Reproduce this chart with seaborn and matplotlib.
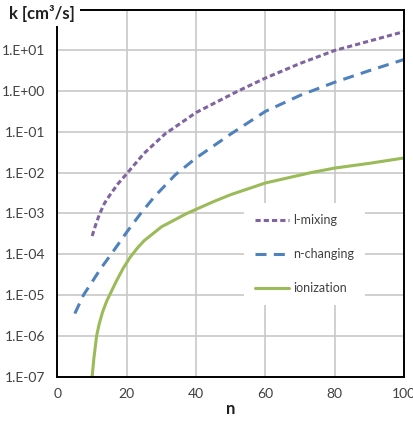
import numpy as np
import pandas as pd
import matplotlib
matplotlib.use("Agg")
import matplotlib.pyplot as plt
from matplotlib.ticker import FuncFormatter, FixedLocator
import seaborn as sns

# ---- data ----
n_lmix = [10, 11, 12.1, 13.5, 15, 17.5, 20, 25, 31, 40, 52, 60, 70, 80, 90, 100]
k_lmix = [2.8e-4, 5.2e-4, 9.5e-4, 1.74e-3, 2.75e-3, 5.4e-3, 9.5e-3, 3.0e-2, 8.9e-2,
          0.30, 1.0, 2.1, 4.8, 10.0, 17.0, 29.0]

n_nchg = [5, 7.5, 10, 12.5, 15.5, 20, 24, 28, 34, 40, 50, 60, 70, 80, 90, 100]
k_nchg = [3.5e-6, 1.0e-5, 2.1e-5, 4.5e-5, 1.0e-4, 3.5e-4, 1.0e-3, 2.6e-3, 8.9e-3,
          2.3e-2, 8.9e-2, 0.32, 0.79, 1.66, 3.2, 6.0]

n_ion = [10, 10.5, 11.3, 12, 13, 14.2, 15.5, 17, 19, 21, 23, 25, 30, 37.3, 45, 50,
         60, 73, 80, 90, 100]
k_ion = [1.0e-7, 2.8e-7, 1.0e-6, 1.9e-6, 3.8e-6, 7.1e-6, 1.2e-5, 2.2e-5, 4.6e-5,
         8.5e-5, 1.4e-4, 2.15e-4, 4.7e-4, 1.0e-3, 1.95e-3, 2.9e-3, 5.6e-3,
         1.0e-2, 1.3e-2, 1.7e-2, 2.3e-2]

series_names = ["l-mixing", "n-changing", "ionization"]
x_ticks = [0, 20, 40, 60, 80, 100]
y_ticks = [1e-7, 1e-6, 1e-5, 1e-4, 1e-3, 1e-2, 1e-1, 1e0, 1e1, 1e2]
x_label = "n"
y_label = "k [cm³/s]"

# ---- style ----
sns.set_style("white")
plt.rcParams["font.family"] = ["Lato", "DejaVu Sans"]

fig = plt.figure(figsize=(4.14, 4.22), dpi=100)
ax = fig.add_axes([57.5 / 414, 1 - 376.5 / 422, (404 - 57.5) / 414, (376.5 - 9.7) / 422])

colors = ["#8064A2", "#4F81BD", "#9BBB59"]
styles = [(0, (1.7, 1.0)), (0, (3.6, 2.4)), "-"]
data = [(n_lmix, k_lmix), (n_nchg, k_nchg), (n_ion, k_ion)]

for (xs, ys), name, c, ls in zip(data, series_names, colors, styles):
    df = pd.DataFrame({"n": xs, "k": ys})
    sns.lineplot(data=df, x="n", y="k", ax=ax, color=c, linewidth=2.2,
                 linestyle=ls, label=name, sort=False)

ax.set_yscale("log")
ax.set_xlim(0, 100)
ax.set_ylim(1e-7, 1e2)
ax.xaxis.set_major_locator(FixedLocator(x_ticks))
ax.yaxis.set_major_locator(FixedLocator(y_ticks))
ax.yaxis.set_minor_locator(FixedLocator([]))


def fmt(v, pos):
    if v >= 99:
        return ""
    e = int(round(np.log10(v)))
    return f"1.E{e:+03d}"


ax.yaxis.set_major_formatter(FuncFormatter(fmt))
ax.grid(True, which="major", color="#c8c8c8", linewidth=1.2)
ax.set_axisbelow(True)
for s in ax.spines.values():
    s.set_color("black")
    s.set_linewidth(1.4)
ax.tick_params(axis="both", which="major", direction="out", length=5, width=1,
               color="#a0a0a0", labelsize=10, labelcolor="#404040", pad=4)
ax.tick_params(axis="x", pad=3)

ax.set_xlabel(x_label, fontsize=12, fontweight="bold", color="#202020", labelpad=1)
ax.set_ylabel("")

fig.text(9 / 414, 1 - 13 / 422, y_label, fontsize=12, fontweight="bold", color="#202020",
         ha="left", va="center",
         bbox=dict(facecolor="white", edgecolor="none", pad=3.5))

leg = ax.legend(loc="center", bbox_to_anchor=(0.713, 0.333), fontsize=9,
                frameon=True, fancybox=False, framealpha=1, facecolor="white",
                edgecolor="none", handlelength=2.7, handletextpad=0.35,
                labelspacing=1.75, borderpad=0.9)
for t in leg.get_texts():
    t.set_color("#404040")

fig.savefig("out.png", dpi=100, facecolor="white")
